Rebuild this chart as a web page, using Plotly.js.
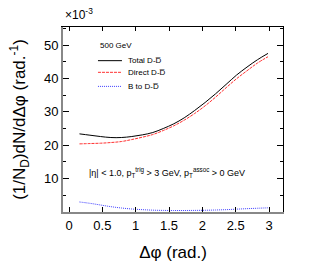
<!DOCTYPE html>
<html><head><meta charset="utf-8">
<script src="https://cdn.plot.ly/plotly-3.0.1.min.js"></script>
<style>html,body{margin:0;padding:0;background:#fff;}#plot{width:315px;height:266px;}</style>
</head><body><div id="plot"></div>
<script>
const dphi = [0.157,0.314,0.471,0.628,0.785,0.942,1.100,1.257,1.414,1.571,1.728,1.885,2.042,2.199,2.356,2.513,2.670,2.827,2.985];
const totalDD = [23.4,23.0,22.6,22.3,22.3,22.6,23.1,23.8,25.0,26.4,28.2,30.4,32.8,35.4,38.2,41.0,43.4,45.6,47.5];
const directDD = [20.4,20.5,20.6,20.8,21.1,21.7,22.4,23.2,24.4,25.8,27.5,29.5,31.8,34.4,37.2,39.9,42.3,44.6,46.5];
const bToDD = [3.0,2.6,2.1,1.6,1.2,0.9,0.7,0.55,0.48,0.45,0.45,0.48,0.52,0.6,0.7,0.85,1.0,1.12,1.25];
const seriesNames = ['Total D-D\u0305', 'Direct D-D\u0305', 'B to D-D\u0305'];
const xTicks = [0,0.5,1,1.5,2,2.5,3];
const yTicks = [10,20,30,40,50];

const font = 'Liberation Sans, Arial, sans-serif';
const styles = [
  {color:'#000', width:1, dash:'solid', shape:'spline'},
  {color:'#ff3030', width:1, dash:'3px,1px', shape:'spline'},
  {color:'#4040ff', width:1, dash:'1px,1px', shape:'spline'}
];
const ys = [totalDD, directDD, bToDD];
const traces = ys.map((y,i)=>({x:dphi, y:y, mode:'lines', name:seriesNames[i], line:styles[i], showlegend:false}));
traces.push({x:[0], y:[0], xaxis:'x2', yaxis:'y2', mode:'markers', marker:{opacity:0}, showlegend:false, hoverinfo:'skip'});

const xr = [-0.09, 3.21], yr = [0, 55.4];
const legY = [0.818, 0.755, 0.679];
const shapes = legY.map((yy,i)=>({type:'line', xref:'paper', yref:'paper', x0:0.159, x1:0.268, y0:yy, y1:yy,
  line:{color:styles[i].color, width:1, dash:styles[i].dash}}));
const annotations = [
  {xref:'paper', yref:'paper', x:0, y:1.015, xanchor:'left', yanchor:'bottom', showarrow:false,
   text:'\u00d710<sup>-3</sup>', font:{size:12, family:font}},
  {xref:'paper', yref:'paper', x:0.109, y:0.211, xanchor:'left', yanchor:'middle', showarrow:false,
   text:'|\u03b7| < 1.0, p<sub>T</sub><sup>trig</sup> > 3 GeV, p<sub>T</sub><sup>assoc</sup> > 0 GeV', font:{size:9, family:font}},
  {xref:'paper', yref:'paper', x:0.16, y:0.901, xanchor:'left', yanchor:'middle', showarrow:false,
   text:'500 GeV', font:{size:8, family:font}}
];
legY.forEach((yy,i)=>annotations.push({xref:'paper', yref:'paper', x:0.285, y:yy, xanchor:'left', yanchor:'middle',
  showarrow:false, text:seriesNames[i], font:{size:8, family:font}}));

const layout = {
  width:315, height:266,
  margin:{l:63, r:32, t:27, b:54},
  paper_bgcolor:'#fff', plot_bgcolor:'#fff',
  font:{family:font, color:'#000'},
  showlegend:false,
  xaxis:{range:xr, tickvals:xTicks, ticktext:xTicks.map(String), ticks:'inside', ticklen:5, tickcolor:'#000',
    showline:true, linecolor:'#888', linewidth:2, showgrid:false, zeroline:false,
    tickfont:{size:13, family:font},
    title:{text:'\u0394\u03c6 (rad.)', font:{size:17, family:font}, standoff:15}},
  yaxis:{range:yr, tickvals:yTicks, ticktext:yTicks.map(String), ticks:'inside', ticklen:6, tickcolor:'#000',
    minor:{dtick:5, tick0:0, ticks:'inside', ticklen:3, tickcolor:'#000'},
    showline:true, linecolor:'#888', linewidth:2, showgrid:false, zeroline:false,
    tickfont:{size:13, family:font},
    title:{text:'(1/N<sub>D</sub>)dN/d\u0394\u03c6 (rad.<sup>-1</sup>)', font:{size:17, family:font}, standoff:14}},
  xaxis2:{overlaying:'x', side:'top', range:xr, tickvals:xTicks, showticklabels:false, ticks:'inside', ticklen:4,
    tickcolor:'#000', showline:true, linecolor:'#000', linewidth:1, showgrid:false, zeroline:false},
  yaxis2:{overlaying:'y', side:'right', range:yr, tickvals:yTicks, showticklabels:false, ticks:'inside', ticklen:6,
    minor:{dtick:5, tick0:0, ticks:'inside', ticklen:3, tickcolor:'#000'},
    tickcolor:'#000', showline:true, linecolor:'#000', linewidth:1, showgrid:false, zeroline:false},
  shapes:shapes,
  annotations:annotations
};
Plotly.newPlot('plot', traces, layout, {displayModeBar:false, staticPlot:true});
</script></body></html>
